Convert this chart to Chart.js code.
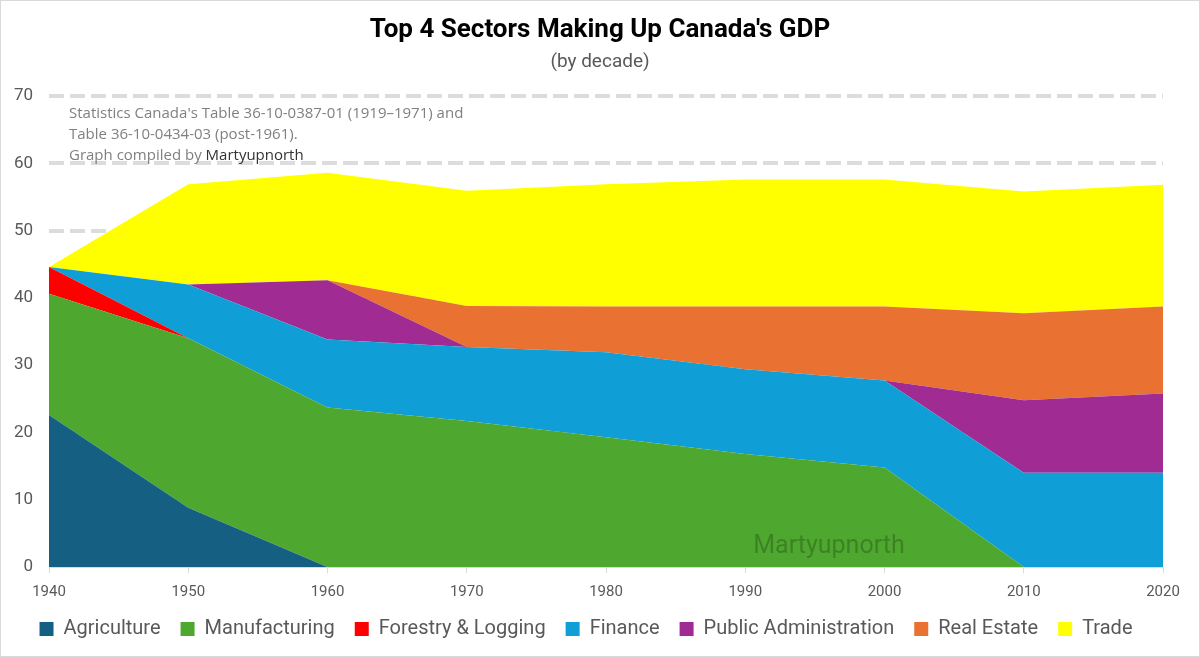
<!DOCTYPE html>
<html>
<head>
<meta charset="utf-8">
<script src="https://cdn.jsdelivr.net/npm/chart.js@4"></script>
<style>
  html, body { margin: 0; padding: 0; background: #fff; }
  #wrap { position: relative; width: 1198px; height: 655px; border: 1px solid #d9d9d9; }
</style>
</head>
<body>
<div id="wrap"><canvas id="areaChart"></canvas></div>
<script>
const decades = ['1940', '1950', '1960', '1970', '1980', '1990', '2000', '2010', '2020'];

// share of GDP (%) by sector
const agriculture   = [22.6, 8.8, 0, 0, 0, 0, 0, 0, 0];
const manufacturing = [18.0, 25.2, 23.7, 21.7, 19.3, 16.8, 14.8, 0, 0];
const forestry      = [4.0, 0, 0, 0, 0, 0, 0, 0, 0];
const finance       = [0, 8.0, 10.1, 11.0, 12.6, 12.6, 12.9, 14.0, 14.0];
const publicAdmin   = [0, 0, 8.8, 0, 0, 0, 0, 10.8, 11.8];
const realEstate    = [0, 0, 0, 6.1, 6.8, 9.3, 11.0, 12.9, 12.9];
const trade         = [0, 14.9, 16.0, 17.1, 18.2, 18.9, 18.9, 18.1, 18.1];

const yTicks = [0, 10, 20, 30, 40, 50, 60, 70];

const chartTitle = "Top 4 Sectors Making Up Canada's GDP";
const chartSubtitle = '(by decade)';

const narrow = "'Liberation Sans Narrow', 'Arial Narrow', 'Roboto', sans-serif";

function series(label, data, color, fill) {
    return {
        label: label,
        data: data,
        backgroundColor: color,
        borderColor: color,
        borderWidth: 0,
        pointRadius: 0,
        fill: fill,
        tension: 0
    };
}

// title centred on the whole canvas (built-in title centres on the padded box)
const heading = {
    id: 'heading',
    afterDraw(chart) {
        const ctx = chart.ctx;
        const cx = chart.width / 2;
        ctx.save();
        ctx.textAlign = 'center';
        ctx.textBaseline = 'middle';
        ctx.fillStyle = '#000000';
        ctx.font = "bold 26px " + narrow;
        ctx.fillText(chartTitle, cx, 29);
        ctx.fillStyle = '#595959';
        ctx.font = "19px " + narrow;
        ctx.fillText(chartSubtitle, cx, 61);
        ctx.restore();
    }
};

// source note + watermark drawn on top of the plot
const notes = {
    id: 'notes',
    afterDatasetsDraw(chart) {
        const { ctx, chartArea } = chart;
        ctx.save();
        ctx.textBaseline = 'middle';
        ctx.textAlign = 'left';
        ctx.font = "15px 'Open Sans', sans-serif";
        ctx.fillStyle = '#808080';
        const x = chartArea.left + 20;
        ctx.fillText("Statistics Canada's Table 36-10-0387-01 (1919\u20131971) and", x, chartArea.top + 18);
        ctx.fillText("Table 36-10-0434-03 (post-1961).", x, chartArea.top + 39);
        const pre = "Graph compiled by ";
        ctx.fillText(pre, x, chartArea.top + 60);
        const w = ctx.measureText(pre).width;
        ctx.fillStyle = '#333333';
        ctx.fillText("Martyupnorth", x + w, chartArea.top + 60);

        ctx.font = "25px " + narrow;
        ctx.fillStyle = 'rgba(0, 0, 0, 0.22)';
        ctx.textAlign = 'center';
        ctx.fillText("Martyupnorth", chartArea.left + 780, chartArea.bottom - 20);
        ctx.restore();
    }
};

const ctx = document.getElementById('areaChart').getContext('2d');

new Chart(ctx, {
    type: 'line',
    data: {
        labels: decades,
        datasets: [
            series('Agriculture', agriculture, '#156082', 'origin'),
            series('Manufacturing', manufacturing, '#4EA72E', '-1'),
            series('Forestry & Logging', forestry, '#FF0000', '-1'),
            series('Finance', finance, '#0F9ED5', '-1'),
            series('Public Administration', publicAdmin, '#A02B93', '-1'),
            series('Real Estate', realEstate, '#E97132', '-1'),
            series('Trade', trade, '#FFFF00', '-1')
        ]
    },
    options: {
        responsive: true,
        maintainAspectRatio: false,
        animation: false,
        layout: { padding: { left: 8, right: 36, top: 95, bottom: 7 } },
        plugins: {
            title: { display: false },
            legend: {
                position: 'bottom',
                labels: {
                    boxWidth: 14,
                    boxHeight: 14,
                    color: '#595959',
                    padding: 20,
                    font: { family: narrow, size: 20 }
                }
            },
            tooltip: { enabled: false }
        },
        scales: {
            x: {
                offset: false,
                afterFit(scale) { scale.height = 32; },
                grid: {
                    drawOnChartArea: false,
                    drawTicks: true,
                    tickLength: 6,
                    color: '#d9d9d9'
                },
                border: { color: '#d9d9d9', width: 1 },
                ticks: {
                    color: '#595959',
                    font: { family: narrow, size: 15 },
                    padding: 10,
                    maxRotation: 0
                }
            },
            y: {
                stacked: true,
                min: 0,
                max: 70,
                afterFit(scale) { scale.width = 40; },
                afterBuildTicks(scale) { scale.ticks = yTicks.map(v => ({ value: v })); },
                border: { display: false, dash: [15, 6] },
                grid: {
                    color: (c) => c.tick && c.tick.value === 0 ? 'rgba(0,0,0,0)' : '#dcdcdc',
                    lineWidth: 4,
                    drawTicks: false
                },
                ticks: {
                    color: '#595959',
                    font: { family: narrow, size: 17 },
                    padding: 16
                }
            }
        }
    },
    plugins: [heading, notes]
});
</script>
</body>
</html>
